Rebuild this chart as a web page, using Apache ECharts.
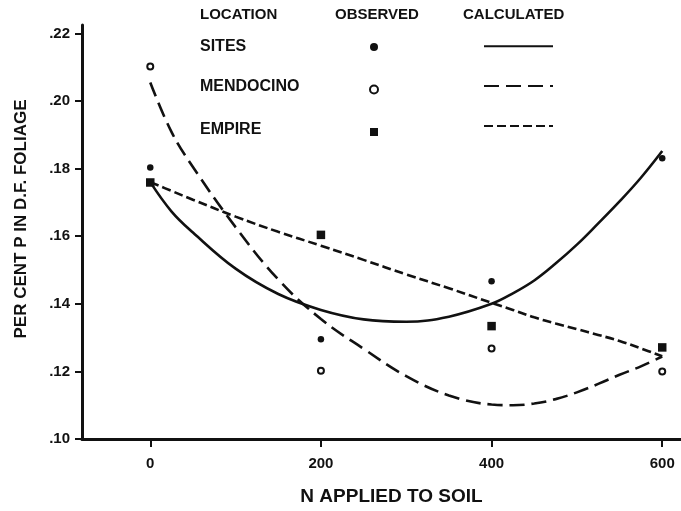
<!DOCTYPE html>
<html>
<head>
<meta charset="utf-8">
<script src="https://cdn.jsdelivr.net/npm/echarts@6/dist/echarts.min.js"></script>
<style>
  html, body { margin: 0; padding: 0; background: #fff; }
  #chart-container { width: 681px; height: 511px; }
</style>
</head>
<body>
<div id="chart-container"></div>
<script>
// observed values, N applied vs per cent P
const nApplied = [0, 200, 400, 600];
const sitesObserved = [0.1803, 0.1295, 0.1467, 0.1831];
const mendocinoObserved = [0.2102, 0.1202, 0.1268, 0.1200];
const empireObserved = [0.1759, 0.1604, 0.1334, 0.1271];

// calculated curves
const curveX = [0, 25, 50, 100, 150, 200, 250, 300, 350, 400, 425, 450, 475, 500, 525, 550, 575, 600];
const sitesCalc = [0.1760, 0.1673, 0.1611, 0.1504, 0.1429, 0.1382, 0.1354, 0.1347, 0.1362, 0.1400, 0.1431, 0.1469, 0.1519, 0.1575, 0.1638, 0.1703, 0.1773, 0.1852];
const mendocinoCalc = [0.2055, 0.1908, 0.1805, 0.1627, 0.1472, 0.1355, 0.1267, 0.1186, 0.1129, 0.1102, 0.1100, 0.1105, 0.1118, 0.1138, 0.1163, 0.1190, 0.1215, 0.1244];
const empireCalc = [0.1760, 0.1734, 0.1708, 0.1658, 0.1613, 0.1572, 0.1530, 0.1487, 0.1446, 0.1403, 0.1382, 0.1360, 0.1342, 0.1325, 0.1308, 0.1290, 0.1268, 0.1245];

const locations = ['SITES', 'MENDOCINO', 'EMPIRE'];
const keyHeaders = ['LOCATION', 'OBSERVED', 'CALCULATED'];
const xTicks = [0, 200, 400, 600];
const yTicks = [0.10, 0.12, 0.14, 0.16, 0.18, 0.20, 0.22];

const ink = '#111';
const font = '"Liberation Sans", Arial, sans-serif';

const dom = document.getElementById('chart-container');
const myChart = echarts.init(dom, null, { renderer: 'canvas' });

const pairs = (xs, ys) => ys.map((y, i) => [xs[i], y]);

const markerStyles = [
  { symbol: 'circle', symbolSize: 6.5, itemStyle: { color: ink, opacity: 1 } },
  { symbol: 'emptyCircle', symbolSize: 6, itemStyle: { color: ink, borderColor: ink, borderWidth: 2, opacity: 1 } },
  { symbol: 'rect', symbolSize: 8.5, itemStyle: { color: ink, opacity: 1 } },
];
const lineTypes = ['solid', [15, 7], [9, 4]];
const observed = [sitesObserved, mendocinoObserved, empireObserved];
const calculated = [sitesCalc, mendocinoCalc, empireCalc];

const series = [];
locations.forEach((name, i) => {
  series.push({
    name: name + ' calculated',
    type: 'line',
    smooth: 0.4,
    symbol: 'none',
    z: 2,
    itemStyle: { color: ink },
    lineStyle: { color: ink, width: 2.6, type: lineTypes[i] },
    data: pairs(curveX, calculated[i]),
  });
});
locations.forEach((name, i) => {
  series.push({
    name: name,
    type: 'scatter',
    z: 3,
    ...markerStyles[i],
    data: pairs(nApplied, observed[i]),
  });
});

// key text (headers and location names)
const rowY = [47, 87, 130];
const headerX = [200, 335, 463];
const graphic = keyHeaders.map((t, i) => ({
  type: 'text',
  x: headerX[i],
  y: 15,
  style: { text: t, fill: ink, font: 'bold 15px ' + font, verticalAlign: 'middle' },
})).concat(locations.map((t, i) => ({
  type: 'text',
  x: 200,
  y: rowY[i],
  style: { text: t, fill: ink, font: 'bold 16px ' + font, verticalAlign: 'middle' },
})));

const keyLegend = (left, names, w, extra) => ({
  orient: 'vertical',
  left: left,
  top: 43,
  itemWidth: w,
  itemHeight: 8,
  itemGap: 33.5,
  padding: 0,
  selectedMode: false,
  formatter: () => '',
  textStyle: { fontSize: 8, lineHeight: 8 },
  data: names,
  ...extra,
});

const option = {
  animation: false,
  backgroundColor: '#fff',
  graphic: graphic,
  legend: [
    keyLegend(369, locations, 8, { itemStyle: { opacity: 1 } }),
    keyLegend(483, locations.map((n) => n + ' calculated'), 69, { itemStyle: { opacity: 0 } }),
  ],
  grid: { left: 82, right: 0, top: 25, bottom: 69 },
  xAxis: {
    type: 'value',
    min: -80,
    max: 622,
    name: 'N APPLIED TO SOIL',
    nameLocation: 'middle',
    nameGap: 48,
    nameTextStyle: { color: ink, fontFamily: font, fontWeight: 'bold', fontSize: 19, padding: [0, 0, 0, 20] },
    axisLine: { onZero: false, lineStyle: { color: ink, width: 3 } },
    axisTick: { customValues: xTicks, length: 8, lineStyle: { color: ink, width: 2 } },
    axisLabel: { customValues: xTicks, margin: 17, color: ink, fontFamily: font, fontWeight: 'bold', fontSize: 15 },
    splitLine: { show: false },
  },
  yAxis: {
    type: 'value',
    min: 0.10,
    max: 0.2225,
    name: 'PER CENT P IN D.F. FOLIAGE',
    nameLocation: 'middle',
    nameRotate: 90,
    nameGap: 52,
    nameTextStyle: { color: ink, fontFamily: font, fontWeight: 'bold', fontSize: 17, padding: [0, 0, 0, 26] },
    axisLine: { onZero: false, lineStyle: { color: ink, width: 3 } },
    axisTick: { customValues: yTicks, length: 7, lineStyle: { color: ink, width: 2 } },
    axisLabel: {
      customValues: yTicks,
      margin: 12,
      color: ink,
      fontFamily: font,
      fontWeight: 'bold',
      fontSize: 15,
      formatter: (v) => v.toFixed(2).replace(/^0/, ''),
    },
    splitLine: { show: false },
  },
  series: series,
};

myChart.setOption(option);
window.addEventListener('resize', myChart.resize);
</script>
</body>
</html>
